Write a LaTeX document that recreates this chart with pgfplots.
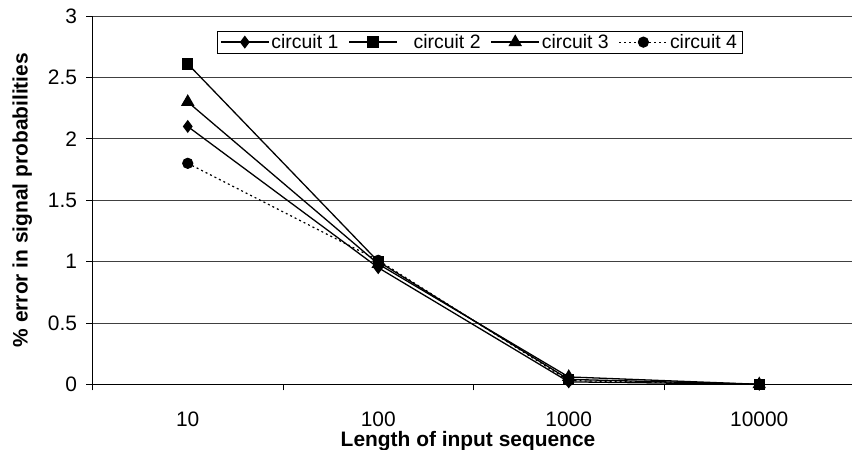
\documentclass[border=0pt]{standalone}
\usepackage{pgfplots}
\pgfplotsset{compat=1.18}
\usepackage{fontspec}
\setmainfont{Liberation Sans}

\pgfplotstableread{
x c1 c2 c3 c4
0 2.10 2.61 2.30 1.80
1 0.95 1.00 0.98 1.01
2 0.02 0.04 0.06 0.03
3 0.00 0.00 0.00 0.00
}\errtable

\newcommand{\chartfont}{\fontsize{21}{25}\selectfont}
\newcommand{\legfont}{\fontsize{19.5}{23}\selectfont}

\begin{document}
\begin{tikzpicture}
\begin{axis}[
  at={(92.5bp,65.7bp)}, anchor=south west,
  scale only axis, width=759.5bp, height=368.3bp,
  xmin=-0.5, xmax=3.487, ymin=0, ymax=3,
  axis x line=bottom, axis y line=left,
  axis line style={-, line width=1bp},
  ytick={0,0.5,...,3},
  ymajorgrids, grid style={black!75, line width=0.7bp},
  xtick={-0.5,0.5,1.5,2.5}, xticklabels={},
  extra x ticks={0,1,2,3},
  extra x tick labels={10,100,1000,10000},
  extra x tick style={major tick length=0pt, grid=none,
    xticklabel style={font=\chartfont, yshift=-12bp}},
  tick align=outside, major tick length=6bp,
  tick style={black, line width=0.8bp},
  /pgf/number format/assume math mode=true,
  yticklabel style={font=\chartfont, xshift=-6bp},
  xticklabel style={font=\chartfont, yshift=-12bp},
  xlabel={\textbf{Length of input sequence}},
  ylabel={\textbf{\% error in signal probabilities}},
  label style={font=\chartfont},
  xlabel style={at={(axis description cs:0.4944,-0.168)}, anchor=base},
  ylabel style={yshift=9bp},
  clip=false,
  legend columns=4,
  legend style={at={(0.5096,0.929)}, anchor=center, draw=black, line width=0.8bp,
    font=\legfont, nodes={font=\legfont}, inner xsep=3bp, inner ysep=1bp,
    /tikz/every even column/.append style={column sep=8bp}},
  legend cell align=left,
  legend image code/.code={%
    \draw[#1] (0bp,0bp) -- (48bp,0bp);
    \draw[#1, solid] plot coordinates {(24bp,0bp)};},
]
\addplot[black, line width=1.3bp, mark=diamond*, mark size=5.5bp] table[x=x,y=c1] {\errtable};
\addlegendentry{circuit 1}
\addplot[black, line width=1.3bp, mark=square*, mark size=5bp] table[x=x,y=c2] {\errtable};
\addlegendentry{\hspace{14bp}circuit 2}
\addplot[black, line width=1.3bp, mark=triangle*, mark size=6.5bp] table[x=x,y=c3] {\errtable};
\addlegendentry{circuit 3}
\addplot[black, line width=1.2bp, dash pattern=on 2bp off 3bp, mark=*, mark size=5bp, mark options={solid}] table[x=x,y=c4] {\errtable};
\addlegendentry{circuit 4}
\end{axis}
\pgfresetboundingbox
\path (0,0) rectangle (852bp,450bp);
\end{tikzpicture}
\end{document}
